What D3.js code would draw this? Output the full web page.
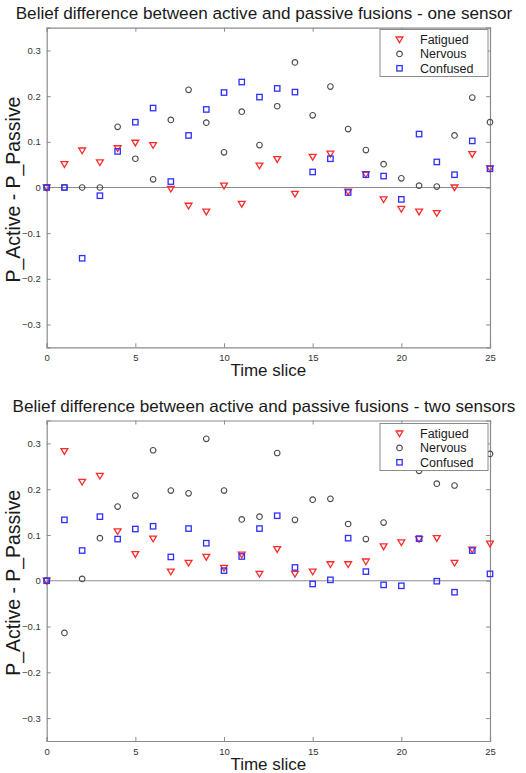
<!DOCTYPE html>
<html>
<head>
<meta charset="utf-8">
<script src="https://cdn.jsdelivr.net/npm/d3@7"></script>
<style>
  html, body { margin: 0; padding: 0; background: #fff; }
  svg { display: block; font-family: "Liberation Sans", Arial, sans-serif; }
</style>
</head>
<body>
<svg id="chart" width="526" height="773"></svg>
<script>
// ---------- data ----------
const timeSlices = d3.range(0, 26);
const seriesNames = ["Fatigued", "Nervous", "Confused"];
const titles = [
  "Belief difference between active and passive fusions - one sensor",
  "Belief difference between active and passive fusions - two sensors"
];
const xLabel = "Time slice";
const yLabel = "P_Active - P_Passive";
const xTicks = [0, 5, 10, 15, 20, 25];
const yTicks = [-0.3, -0.2, -0.1, 0, 0.1, 0.2, 0.3];

// one sensor
const fatigued1 = [0, 0.051, 0.081, 0.055, 0.086, 0.098, 0.093, -0.003, -0.040, -0.053, 0.004, -0.036, 0.048, 0.062, -0.014, 0.067, 0.074, -0.009, 0.029, -0.026, -0.047, -0.053, -0.056, 0.000, 0.073, 0.042];
const nervous1  = [0, 0, 0, 0, 0.133, 0.063, 0.018, 0.148, 0.214, 0.142, 0.077, 0.166, 0.093, 0.178, 0.274, 0.158, 0.221, 0.128, 0.082, 0.051, 0.020, 0.004, 0.002, 0.114, 0.197, 0.143];
const confused1 = [0, 0, -0.155, -0.018, 0.079, 0.143, 0.174, 0.013, 0.114, 0.171, 0.208, 0.231, 0.198, 0.217, 0.209, 0.034, 0.063, -0.011, 0.028, 0.025, -0.026, 0.117, 0.056, 0.028, 0.102, 0.041];

// two sensors
const fatigued2 = [0, 0.283, 0.216, 0.229, 0.108, 0.058, 0.092, 0.020, 0.039, 0.052, 0.028, 0.057, 0.015, 0.069, 0.015, 0.020, 0.036, 0.036, 0.042, 0.075, 0.084, 0.091, 0.093, 0.039, 0.068, 0.081];
const nervous2  = [0, -0.114, 0.004, 0.093, 0.162, 0.186, 0.285, 0.197, 0.191, 0.310, 0.197, 0.134, 0.140, 0.279, 0.133, 0.177, 0.179, 0.124, 0.091, 0.127, 0.270, 0.240, 0.212, 0.208, 0.270, 0.277];
const confused2 = [0, 0.133, 0.066, 0.140, 0.091, 0.113, 0.119, 0.052, 0.114, 0.082, 0.022, 0.053, 0.114, 0.142, 0.029, -0.007, 0.002, 0.093, 0.020, -0.009, -0.011, 0.092, -0.001, -0.025, 0.066, 0.015];

// ---------- styles ----------
const colors = { Fatigued: "#ff2a2a", Nervous: "#4a4a4a", Confused: "#2f2fff" };
const axisColor = "#8c8c8c";
const textColor = "#1a1a1a";

const svg = d3.select("#chart");

function fitText(sel, width) {
  const len = sel.node().getComputedTextLength();
  const fs = parseFloat(sel.attr("font-size"));
  sel.attr("font-size", (fs * width / len).toFixed(2));
}

function marker(sel, name) {
  const c = colors[name];
  if (name === "Fatigued") {
    sel.append("path").attr("d", "M-3.4,-2.5 L3.4,-2.5 L0,3.2 Z")
      .attr("fill", "none").attr("stroke", c).attr("stroke-width", 1.3);
  } else if (name === "Nervous") {
    sel.append("circle").attr("r", 2.8).attr("fill", "none")
      .attr("stroke", c).attr("stroke-width", 1.1);
  } else {
    sel.append("rect").attr("x", -2.7).attr("y", -2.7).attr("width", 5.4).attr("height", 5.4)
      .attr("fill", "none").attr("stroke", c).attr("stroke-width", 1.3);
  }
}

function panel(cfg) {
  const { top, bottom, left, right, title, titleBase, data } = cfg;
  const x = d3.scaleLinear().domain([0, 25]).range([left, right]);
  const y = d3.scaleLinear().domain([-0.35, 0.35]).range([bottom, top]);
  const g = svg.append("g");

  // title
  const t = g.append("text").attr("x", (12 + 516) / 2).attr("y", titleBase)
    .attr("text-anchor", "middle").attr("font-size", 14).attr("fill", textColor).text(title);
  fitText(t, cfg.titleWidth);

  // axes box
  const axStyle = s => {
    s.select(".domain").attr("stroke", axisColor).attr("stroke-width", 1.2);
    s.selectAll(".tick line").attr("stroke", axisColor);
    s.selectAll(".tick text").attr("fill", "#333").attr("font-size", 9.5)
      .attr("font-family", "Liberation Sans, Arial, sans-serif");
  };
  g.append("g").attr("transform", `translate(0,${bottom})`)
    .call(d3.axisBottom(x).tickValues(xTicks).tickSize(-4).tickPadding(7).tickFormat(d3.format("d")))
    .call(axStyle);
  g.append("g").attr("transform", `translate(0,${top})`)
    .call(d3.axisTop(x).tickValues(xTicks).tickSize(-4).tickFormat(""))
    .call(axStyle);
  g.append("g").attr("transform", `translate(${left},0)`)
    .call(d3.axisLeft(y).tickValues(yTicks).tickSize(-4).tickPadding(6).tickFormat(d => d === 0 ? "0" : d3.format(".1f")(d)))
    .call(axStyle);
  g.append("g").attr("transform", `translate(${right},0)`)
    .call(d3.axisRight(y).tickValues(yTicks).tickSize(-4).tickFormat(""))
    .call(axStyle);

  // zero line
  g.append("line").attr("x1", x(0)).attr("x2", x(25)).attr("y1", y(0)).attr("y2", y(0))
    .attr("stroke", axisColor).attr("stroke-width", 1.2);

  // markers
  seriesNames.forEach((name, si) => {
    const vals = data[si];
    g.append("g").selectAll("g").data(timeSlices).join("g")
      .attr("transform", d => `translate(${x(d)},${y(vals[d])})`)
      .each(function () { marker(d3.select(this), name); });
  });

  // axis labels
  g.append("text").attr("x", (left + right) / 2).attr("y", bottom + 29)
    .attr("text-anchor", "middle").attr("font-size", 17).attr("fill", textColor).text(xLabel);
  const yl = g.append("text").attr("transform", `translate(20,${(top + bottom) / 2 + 2}) rotate(-90)`)
    .attr("text-anchor", "middle").attr("font-size", 18).attr("fill", textColor).text(yLabel);
  fitText(yl, 186);

  // legend
  const lg = g.append("g");
  lg.append("rect").attr("x", 380).attr("y", cfg.legTop).attr("width", 108).attr("height", 47)
    .attr("fill", "#fff").attr("stroke", axisColor).attr("stroke-width", 1);
  seriesNames.forEach((name, i) => {
    const yy = cfg.legTop + 10 + i * 14.4;
    const m = lg.append("g").attr("transform", `translate(399.5,${yy})`);
    marker(m, name);
    lg.append("text").attr("x", 420).attr("y", yy + 4.5).attr("font-size", 12.5)
      .attr("fill", textColor).attr("font-weight", 500).text(name);
  });
}

panel({ top: 27.7, bottom: 347.3, left: 46.7, right: 490, title: titles[0], titleBase: 18.5, titleWidth: 497,
        legTop: 29.5, data: [fatigued1, nervous1, confused1] });
panel({ top: 420.5, bottom: 741, left: 46.7, right: 490, title: titles[1], titleBase: 411.5, titleWidth: 503,
        legTop: 423.5, data: [fatigued2, nervous2, confused2] });
</script>
</body>
</html>
